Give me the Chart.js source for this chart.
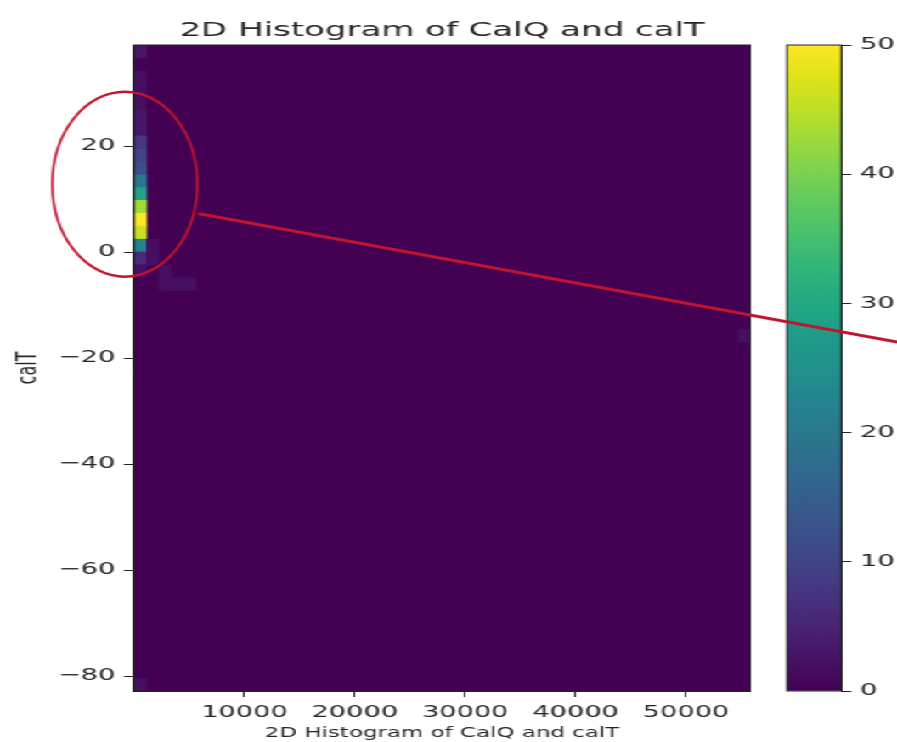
<!DOCTYPE html>
<html>
<head>
<meta charset="utf-8">
<script src="https://cdn.jsdelivr.net/npm/chart.js@4.4.1/dist/chart.umd.min.js"></script>
<style>
  html, body { margin: 0; padding: 0; background: #ffffff; overflow: hidden; }
  #wrap { position: absolute; left: 0; top: 0; width: 528px; height: 742px;
          transform: scaleX(1.69886); transform-origin: 0 0; }
  #cb { position: absolute; left: 446px; top: 0; z-index: 0; }
  #main { position: absolute; left: 0; top: 0; z-index: 1; }
</style>
</head>
<body>
<div id="wrap">
  <canvas id="cb" width="82" height="742"></canvas>
  <canvas id="main" width="528" height="742"></canvas>
</div>
<script>
// ---------------- data ----------------
const chartTitle = '2D Histogram of CalQ and calT';
const xLabel = '2D Histogram of CalQ and calT';
const yLabel = 'calT';
const calQRange = [0, 55800];        // histogram x extent
const calTRange = [-82.8, 39.06];    // histogram y extent
const nBinsQ = 50;
const nBinsT = 50;
// non-empty cells: bin index along CalQ (from left), bin index along calT (from bottom), count
const cellQBin = [0, 0, 0, 0, 0, 0, 0, 0, 0, 0, 0, 0, 0, 0, 0, 0, 0, 0, 1, 1, 2, 2, 3, 4, 49];
const cellTBin = [49, 47, 46, 45, 44, 43, 42, 41, 40, 39, 38, 37, 36, 35, 34, 33, 32, 0, 34, 33, 32, 31, 31, 31, 27];
const cellCount = [3, 2, 2, 2, 3, 3, 8, 10, 12, 20, 29, 43, 50, 46, 22, 6, 2, 2, 2, 2, 2, 2, 2, 2, 2];
const xTickValues = [10000, 20000, 30000, 40000, 50000];
const yTickValues = [-80, -60, -40, -20, 0, 20];
const cbarRange = [0, 50];
const cbarTickStep = 10;
// annotation drawn on top (data coordinates)
const annotEllipse = { q: -833, t: 12.81, rq: 6568, rt: 17.45 };
const annotLine = { q0: 5798, t0: 7.28, q1: 69118, t1: -16.96 };

// ---------------- style helpers ----------------
const K = 897 / 528;  // horizontal stretch of the picture
const FONT = 'DejaVu Sans';
const TXT = '#262626';
const viridisStops = ['#440154','#471365','#482475','#463480','#414487','#3b528b','#355f8d',
  '#2f6c8e','#2a788e','#25848e','#21918c','#1e9c89','#22a884','#2fb47c','#44bf70','#5ec962',
  '#7ad151','#9bd93c','#bddf26','#dfe318','#fde725'];
function hex2rgb(h){ return [parseInt(h.slice(1,3),16), parseInt(h.slice(3,5),16), parseInt(h.slice(5,7),16)]; }
function viridis(t){
  t = Math.max(0, Math.min(1, t));
  const p = t * (viridisStops.length - 1);
  const i = Math.min(Math.floor(p), viridisStops.length - 2);
  const f = p - i;
  const a = hex2rgb(viridisStops[i]), b = hex2rgb(viridisStops[i+1]);
  const c = a.map((v, j) => Math.round(v + (b[j] - v) * f));
  return `rgb(${c[0]},${c[1]},${c[2]})`;
}
const dQ = (calQRange[1] - calQRange[0]) / nBinsQ;
const dT = (calTRange[1] - calTRange[0]) / nBinsT;
const cells = cellCount.map((v, i) => ({
  x: calQRange[0] + (cellQBin[i] + 0.5) * dQ,
  y: calTRange[0] + (cellTBin[i] + 0.5) * dT,
  v: v
}));

const heatmapPlugin = {
  id: 'heatmap',
  beforeDatasetsDraw(chart) {
    const { ctx, chartArea: a, scales: { x, y } } = chart;
    ctx.save();
    ctx.beginPath();
    ctx.rect(a.left, a.top, a.right - a.left, a.bottom - a.top);
    ctx.clip();
    ctx.fillStyle = viridis(0);
    ctx.fillRect(a.left, a.top, a.right - a.left, a.bottom - a.top);
    chart.data.datasets[0].data.forEach(c => {
      const x0 = x.getPixelForValue(c.x - dQ / 2), x1 = x.getPixelForValue(c.x + dQ / 2);
      const y0 = y.getPixelForValue(c.y + dT / 2), y1 = y.getPixelForValue(c.y - dT / 2);
      ctx.fillStyle = viridis((c.v - cbarRange[0]) / (cbarRange[1] - cbarRange[0]));
      ctx.fillRect(x0, y0, x1 - x0 + 0.3, y1 - y0 + 0.3);
    });
    ctx.restore();
  },
  afterDraw(chart) {
    const { ctx, chartArea: a, scales: { x, y } } = chart;
    ctx.save();
    ctx.strokeStyle = '#222';
    ctx.lineWidth = 1;
    ctx.strokeRect(a.left, a.top, a.right - a.left, a.bottom - a.top);
    // annotation, drawn in unstretched pixel space for a uniform stroke
    ctx.scale(1 / K, 1);
    ctx.strokeStyle = '#c0142f';
    const cx = x.getPixelForValue(annotEllipse.q) * K;
    const cy = y.getPixelForValue(annotEllipse.t);
    const rx = (x.getPixelForValue(annotEllipse.q + annotEllipse.rq) - x.getPixelForValue(annotEllipse.q)) * K;
    const ry = y.getPixelForValue(annotEllipse.t) - y.getPixelForValue(annotEllipse.t + annotEllipse.rt);
    ctx.lineWidth = 2.5;
    ctx.beginPath();
    ctx.ellipse(cx, cy, rx, ry, 0, 0, Math.PI * 2);
    ctx.stroke();
    ctx.lineWidth = 3;
    ctx.beginPath();
    ctx.moveTo(x.getPixelForValue(annotLine.q0) * K, y.getPixelForValue(annotLine.t0));
    ctx.lineTo(x.getPixelForValue(annotLine.q1) * K, y.getPixelForValue(annotLine.t1));
    ctx.stroke();
    ctx.restore();
  }
};

new Chart(document.getElementById('main'), {
  type: 'scatter',
  data: { datasets: [{ data: cells, pointRadius: 0, pointHoverRadius: 0, showLine: false }] },
  options: {
    responsive: false, animation: false,
    layout: { padding: { left: 0, right: 86.5, top: 0, bottom: 0 } },
    plugins: {
      legend: { display: false }, tooltip: { enabled: false },
      title: { display: true, fullSize: false, text: chartTitle, color: TXT,
               font: { family: FONT, size: 20, weight: 'normal' }, padding: { top: 19, bottom: 2 } }
    },
    scales: {
      x: {
        type: 'linear', min: calQRange[0], max: calQRange[1],
        afterBuildTicks: s => { s.ticks = xTickValues.map(v => ({ value: v })); },
        afterFit: s => { s.height = 51; },
        grid: { drawOnChartArea: false, drawTicks: true, tickLength: 6, color: '#222' },
        border: { display: true, color: '#222' },
        ticks: { color: TXT, font: { family: FONT, size: 16 }, padding: 6, maxRotation: 0, autoSkip: false,
                 callback: v => String(v) },
        title: { display: true, text: xLabel, color: TXT, font: { family: FONT, size: 13.5 },
                 padding: { top: 0, bottom: 0 } }
      },
      y: {
        type: 'linear', min: calTRange[0], max: calTRange[1],
        afterBuildTicks: s => { s.ticks = yTickValues.map(v => ({ value: v })); },
        afterFit: s => { s.width = 78.9; },
        grid: { drawOnChartArea: false, drawTicks: true, tickLength: 6, color: '#222' },
        border: { display: true, color: '#222' },
        ticks: { color: TXT, font: { family: FONT, size: 16 }, padding: 5,
                 callback: v => (v < 0 ? '\u2212' + Math.abs(v) : String(v)) },
        title: { display: true, text: yLabel, color: TXT, font: { family: FONT, size: 16 },
                 padding: { top: 7, bottom: 0 } }
      }
    }
  },
  plugins: [heatmapPlugin]
});

// ---------------- colorbar ----------------
const cbBorderPlugin = {
  id: 'cbBorder',
  afterDraw(chart) {
    const { ctx, chartArea: a } = chart;
    ctx.save();
    ctx.strokeStyle = '#222';
    ctx.lineWidth = 1;
    ctx.strokeRect(a.left, a.top, a.right - a.left, a.bottom - a.top);
    ctx.restore();
  }
};
new Chart(document.getElementById('cb'), {
  type: 'bar',
  data: { labels: [''], datasets: [{
    data: [cbarRange[1]], borderWidth: 0, barPercentage: 1, categoryPercentage: 1,
    backgroundColor: (c) => {
      const a = c.chart.chartArea;
      if (!a) return viridis(1);
      const g = c.chart.ctx.createLinearGradient(0, a.bottom, 0, a.top);
      for (let i = 0; i <= 20; i++) g.addColorStop(i / 20, viridis(i / 20));
      return g;
    }
  }] },
  options: {
    responsive: false, animation: false,
    layout: { padding: { left: 17.2, right: 0, top: 45, bottom: 51 } },
    plugins: { legend: { display: false }, tooltip: { enabled: false }, title: { display: false } },
    scales: {
      x: { display: false },
      y: {
        position: 'right', min: cbarRange[0], max: cbarRange[1],
        afterFit: s => { s.width = 32.8; },
        grid: { drawOnChartArea: false, drawTicks: true, tickLength: 6, color: '#222' },
        border: { display: true, color: '#222' },
        ticks: { stepSize: cbarTickStep, color: TXT, font: { family: FONT, size: 16 }, padding: 5 }
      }
    }
  },
  plugins: [cbBorderPlugin]
});
</script>
</body>
</html>
